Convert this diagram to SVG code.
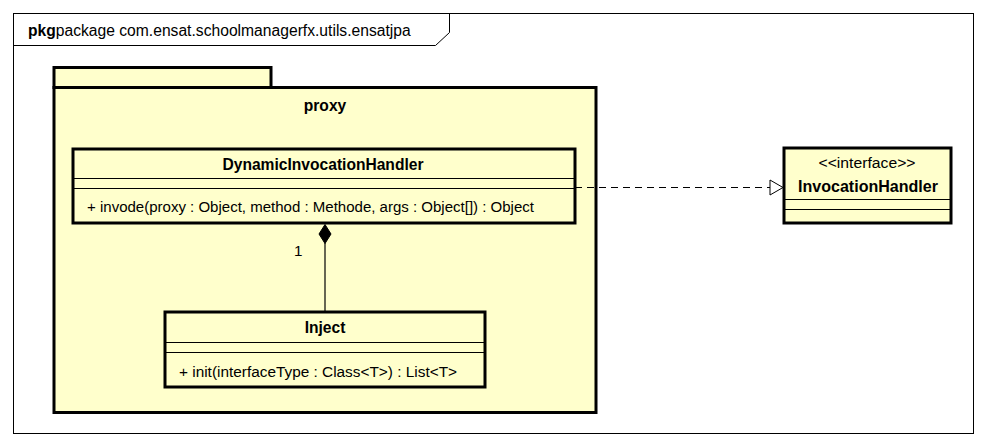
<svg xmlns="http://www.w3.org/2000/svg" width="984" height="446" viewBox="0 0 984 446">
<style>
text{font-family:"Liberation Sans",Arial,sans-serif;fill:#000}
.name{font-size:15.6px;font-weight:bold;text-anchor:middle}
.op{font-size:15.2px}
.box{fill:#FFFFCC;stroke:#000;stroke-width:3}
.sep{stroke:#000;stroke-width:1;fill:none}
</style>
<rect width="984" height="446" fill="#fff"/>
<g id="frame">
<rect x="13.5" y="13.5" width="960" height="420" fill="none" stroke="#000" stroke-width="1"/>
<path d="M13.5 45.5 H435.5 L449.5 32.5 V13.5" fill="none" stroke="#000" stroke-width="1"/>
<text x="28" y="36" font-size="15.6"><tspan font-weight="bold">pkg</tspan><tspan textLength="355" lengthAdjust="spacingAndGlyphs">package com.ensat.schoolmanagerfx.utils.ensatjpa</tspan></text>
</g>
<g id="proxy">
<rect class="box" x="54" y="67.5" width="217" height="20"/>
<rect class="box" x="54" y="87.5" width="542" height="325"/>
<text class="name" x="325" y="111">proxy</text>
</g>
<g id="DynamicInvocationHandler">
<rect class="box" x="73" y="149" width="502" height="74"/>
<line class="sep" x1="73" y1="178.5" x2="575" y2="178.5"/>
<line class="sep" x1="73" y1="188.5" x2="575" y2="188.5"/>
<text class="name" x="323" y="170" textLength="201" lengthAdjust="spacingAndGlyphs">DynamicInvocationHandler</text>
<text class="op" x="87" y="212" textLength="447" lengthAdjust="spacingAndGlyphs">+ invode(proxy : Object, method : Methode, args : Object[]) : Object</text>
</g>
<g id="Inject">
<rect class="box" x="165" y="312" width="320" height="75"/>
<line class="sep" x1="165" y1="342.5" x2="485" y2="342.5"/>
<line class="sep" x1="165" y1="352.5" x2="485" y2="352.5"/>
<text class="name" x="325" y="333">Inject</text>
<text class="op" x="179" y="377" textLength="278" lengthAdjust="spacingAndGlyphs">+ init(interfaceType : Class&lt;T&gt;) : List&lt;T&gt;</text>
</g>
<g id="InvocationHandler">
<rect class="box" x="784" y="148" width="167" height="75"/>
<line class="sep" x1="784" y1="199.5" x2="951" y2="199.5"/>
<line class="sep" x1="784" y1="209.5" x2="951" y2="209.5"/>
<text x="867" y="168" font-size="15.4" text-anchor="middle" textLength="97" lengthAdjust="spacingAndGlyphs">&lt;&lt;interface&gt;&gt;</text>
<text class="name" x="868" y="192" textLength="140" lengthAdjust="spacingAndGlyphs">InvocationHandler</text>
</g>
<g id="connectors">
<line x1="575" y1="187.5" x2="771" y2="187.5" stroke="#000" stroke-width="1" stroke-dasharray="7,5"/>
<path d="M770 180 L783 187.5 L770 195 Z" fill="#fff" stroke="#000" stroke-width="1"/>
<line x1="325" y1="243" x2="325" y2="311" stroke="#000" stroke-width="1.2"/>
<path d="M325 224.5 L331 234 L325 243.5 L319 234 Z" fill="#000" stroke="#000" stroke-width="1"/>
<text x="294" y="256" font-size="15.2">1</text>
</g>
</svg>
